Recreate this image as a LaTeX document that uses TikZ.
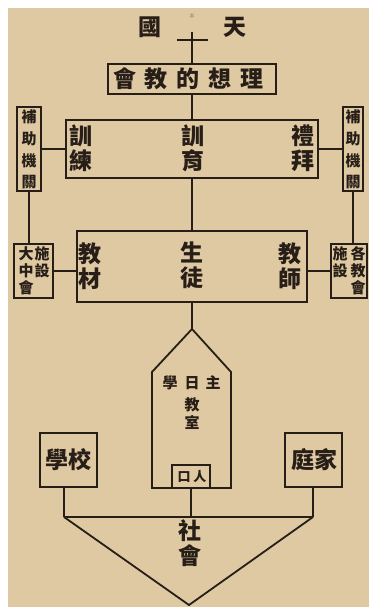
\documentclass[tikz,border=0pt]{standalone}
\usepackage{fontspec}
\newfontfamily\cjk{Noto Sans CJK TC}
\definecolor{paper}{RGB}{222,201,162}
\definecolor{ink}{RGB}{40,30,24}
\begin{document}
\begin{tikzpicture}[x=1pt,y=-1pt,
  box/.style={draw=ink, line width=1.8pt, inner sep=0pt},
  con/.style={draw=ink, line width=1.8pt},
  big/.style={text=ink, inner sep=0pt, align=center, font=\cjk\bfseries\fontsize{23}{25}\selectfont},
  mid/.style={text=ink, inner sep=0pt, align=center, font=\cjk\bfseries\fontsize{15}{21.7}\selectfont},
  sml/.style={text=ink, inner sep=0pt, align=center, font=\cjk\bfseries\fontsize{15}{18}\selectfont},
  tiny/.style={text=ink, inner sep=0pt, align=center, font=\cjk\bfseries\fontsize{15}{17}\selectfont}]
\fill[white] (0,0) rectangle (369,607);
\fill[paper] (8,8) rectangle (369,607);
\useasboundingbox (0,0) rectangle (369,607);

% top
\node[big] (guo) at (150,27) {國};
\node[big] (tian) at (235,27) {天};
\node[text=ink!60, inner sep=0pt, font=\fontsize{12}{12}\selectfont] (star) at (192,18) {*};
\coordinate (crossTop) at (192,32);
\coordinate (crossL) at (177,40);
\coordinate (crossR) at (208,40);
\draw[con] (crossL) -- (crossR);

% ideal box
\node[box, minimum width=168, minimum height=30] (ideal) at (192,79) {};
\node[big] (idealtext) at (188.5,79) {會\hspace{9pt}教\hspace{9pt}的\hspace{9pt}想\hspace{9pt}理};
\draw[con] (crossTop) -- (ideal.north);

% training box
\node[box, minimum width=252, minimum height=58] (train) at (192,149) {};
\node[big] (xunlian) at (81,148) {訓\\練};
\node[big] (xunyu) at (193,148) {訓\\育};
\node[big] (libai) at (303,148) {禮\\拜};
\draw[con] (ideal.south) -- (train.north);

% auxiliary boxes
\node[box, minimum width=24, minimum height=84] (auxL) at (29,149) {};
\node[mid] (auxLt) at (29,149.5) {補\\助\\機\\關};
\node[box, minimum width=20, minimum height=84] (auxR) at (353,149) {};
\node[mid] (auxRt) at (353,149.5) {補\\助\\機\\關};
\draw[con] (auxL.east) -- (train.west);
\draw[con] (auxR.west) -- (train.east);

% main box
\node[box, minimum width=230, minimum height=71] (main) at (192,266.5) {};
\node[big] (jiaocai) at (90,266) {教\\材};
\node[big] (shengtu) at (192,265) {生\\徒};
\node[big] (jiaoshi) at (290,266) {教\\師};
\draw[con] (train.south) -- (main.north);

% facility boxes
\node[box, minimum width=39, minimum height=54] (facL) at (33.5,271) {};
\node[tiny, anchor=north] (facL1) at (42,246) {施\\設};
\node[tiny, anchor=north] (facL2) at (26,246) {大\\中\\會};
\node[box, minimum width=36, minimum height=54] (facR) at (349,271) {};
\node[tiny, anchor=north] (facR1) at (358,246) {各\\教\\會};
\node[tiny, anchor=north] (facR2) at (340,246) {施\\設};
\draw[con] (auxL.south) -- (auxL.south |- facL.north);
\draw[con] (auxR.south) -- (auxR.south |- facR.north);
\draw[con] (facL.east) -- (facL.east -| main.west);
\draw[con] (facR.west) -- (facR.west -| main.east);

% sunday school pentagon
\coordinate (apex) at (192,329);
\coordinate (shL) at (152,372);
\coordinate (shR) at (231,372);
\coordinate (btL) at (152,488);
\coordinate (btR) at (231,488);
\draw[con, line join=miter] (apex) -- (shR) -- (btR) -- (btL) -- (shL) -- cycle;
\draw[con] (main.south) -- (apex);
\node[sml] (xue) at (170,383) {學};
\node[sml] (ri) at (192,383) {日};
\node[sml] (zhu) at (213,383) {主};
\node[sml] (jiaoshi2) at (192,414) {教\\室};
\node[box, minimum width=38, minimum height=23] (entry) at (191,476.5) {};
\node[sml, font=\cjk\bfseries\fontsize{13}{13}\selectfont] (entrytext) at (192,477) {口\hspace{3pt}人};

% school and home
\node[box, minimum width=57, minimum height=54] (school) at (68.5,460) {};
\node[big] (schooltext) at (68.5,460) {學校};
\node[box, minimum width=57, minimum height=54] (home) at (313.5,460) {};
\node[big] (hometext) at (314,460) {庭家};

% society
\coordinate (join) at (191,517);
\coordinate (sL) at (64,517);
\coordinate (sR) at (313,517);
\coordinate (bottom) at (189,605);
\draw[con] (entry.south) -- (join);
\draw[con] (school.south -| sL) -- (sL);
\draw[con] (home.south -| sR) -- (sR);
\draw[con] (sL) -- (sR);
\draw[con] (sL) -- (bottom) -- (sR);
\node[big] (shehui) at (190,543) {社\\會};
\end{tikzpicture}
\end{document}
